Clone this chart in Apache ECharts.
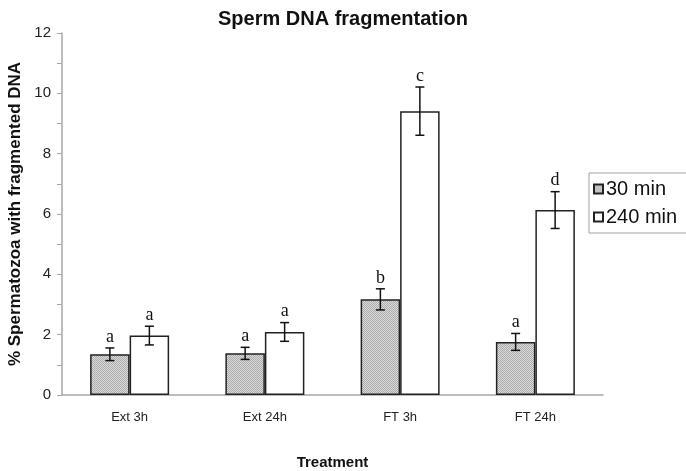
<!DOCTYPE html>
<html>
<head>
<meta charset="utf-8">
<script src="https://cdn.jsdelivr.net/npm/echarts@6/dist/echarts.min.js"></script>
<style>html,body{margin:0;padding:0;background:#fff}#c{width:686px;height:471px}</style>
</head>
<body>
<div id="c"></div>
<script>
const categories = ['Ext 3h', 'Ext 24h', 'FT 3h', 'FT 24h'];
const seriesNames = ['30 min', '240 min'];
const values30 = [1.35, 1.38, 3.17, 1.76];
const values240 = [1.97, 2.09, 9.41, 6.13];
const err30 = [0.21, 0.2, 0.35, 0.28];
const err240 = [0.31, 0.31, 0.8, 0.61];
const letters30 = ['a', 'a', 'b', 'a'];
const letters240 = ['a', 'a', 'c', 'd'];
const yTicks = [0, 2, 4, 6, 8, 10, 12];

// fine dotted grey pattern
const pc = document.createElement('canvas');
pc.width = 2; pc.height = 2;
const pctx = pc.getContext('2d');
pctx.fillStyle = '#dadada'; pctx.fillRect(0, 0, 2, 2);
pctx.fillStyle = '#acacac'; pctx.fillRect(0, 0, 1, 1); pctx.fillRect(1, 1, 1, 1);
const pattern = { image: pc, repeat: 'repeat' };

const BAR_FRAC = 0.292;
function errSeries(vals, errs, letters, side) {
  const data = vals.map((v, i) => [i, v, errs[i]]);
  return {
    type: 'custom',
    name: 'err' + side,
    silent: true,
    z: 10,
    data: data,
    renderItem: function (params, api) {
      const i = api.value(0), v = api.value(1), e = api.value(2);
      const band = api.size([1, 0])[0];
      const x = api.coord([i, v])[0] + side * band * BAR_FRAC / 2;
      const yt = api.coord([i, v + e])[1];
      const yb = api.coord([i, v - e])[1];
      const cap = 4.5;
      const st = { stroke: '#111', lineWidth: 1.5 };
      return {
        type: 'group',
        children: [
          { type: 'line', shape: { x1: x, y1: yt, x2: x, y2: yb }, style: st },
          { type: 'line', shape: { x1: x - cap, y1: yt, x2: x + cap, y2: yt }, style: st },
          { type: 'line', shape: { x1: x - cap, y1: yb, x2: x + cap, y2: yb }, style: st },
          { type: 'text', style: { text: letters[params.dataIndex], x: x, y: yt - 2, textAlign: 'center', textVerticalAlign: 'bottom', font: '18px "Liberation Serif", serif', fill: '#111' } }
        ]
      };
    }
  };
}

const chart = echarts.init(document.getElementById('c'));
chart.setOption({
  animation: false,
  backgroundColor: '#fff',
  title: {
    text: 'Sperm DNA fragmentation',
    left: 338, top: 4, textAlign: 'center',
    textStyle: { fontFamily: 'Liberation Sans, Arial', fontWeight: 'bold', fontSize: 20, color: '#111' }
  },
  legend: {
    data: seriesNames,
    orient: 'vertical',
    left: 589, top: 173,
    icon: 'rect', itemWidth: 9, itemHeight: 9, itemGap: 8,
    padding: [6, 12, 6, 4],
    borderColor: '#a0a0a0', borderWidth: 1, backgroundColor: '#fff',
    textStyle: { fontFamily: 'Liberation Sans, Arial', fontSize: 20, color: '#111', padding: [0, 0, 0, -2] }
  },
  grid: { left: 62, right: 83, top: 33, bottom: 76, containLabel: false, outerBoundsMode: 'none' },
  xAxis: {
    type: 'category', data: categories,
    name: 'Treatment', nameLocation: 'middle', nameGap: 60,
    nameTextStyle: { fontFamily: 'Liberation Sans, Arial', fontWeight: 'bold', fontSize: 15, color: '#111' },
    axisLine: { lineStyle: { color: '#a8a8a8', width: 1.5 } },
    axisTick: { length: 5, lineStyle: { color: '#a8a8a8' } },
    axisLabel: { margin: 16, fontFamily: 'Liberation Sans, Arial', fontSize: 13, color: '#222' }
  },
  yAxis: {
    type: 'value', min: 0, max: 12, interval: 1,
    name: '% Spermatozoa with fragmented DNA', nameLocation: 'middle', nameGap: 36,
    nameTextStyle: { fontFamily: 'Liberation Sans, Arial', fontWeight: 'bold', fontSize: 17, color: '#111' },
    axisLine: { show: true, lineStyle: { color: '#a8a8a8', width: 1.5 } },
    axisTick: { show: true, length: 5, lineStyle: { color: '#a8a8a8' } },
    splitLine: { show: false },
    axisLabel: {
      margin: 11, fontFamily: 'Liberation Sans, Arial', fontSize: 15, color: '#222',
      formatter: v => (yTicks.indexOf(v) >= 0 ? String(v) : '')
    }
  },
  series: [
    {
      type: 'bar', name: seriesNames[0], data: values30,
      barWidth: (BAR_FRAC * 100) + '%', barGap: '0%',
      itemStyle: { color: pattern, borderColor: '#222', borderWidth: 1.5 }
    },
    {
      type: 'bar', name: seriesNames[1], data: values240,
      barWidth: (BAR_FRAC * 100) + '%', barGap: '0%',
      itemStyle: { color: '#fff', borderColor: '#222', borderWidth: 1.5 }
    },
    errSeries(values30, err30, letters30, -1),
    errSeries(values240, err240, letters240, 1)
  ]
});
</script>
</body>
</html>
